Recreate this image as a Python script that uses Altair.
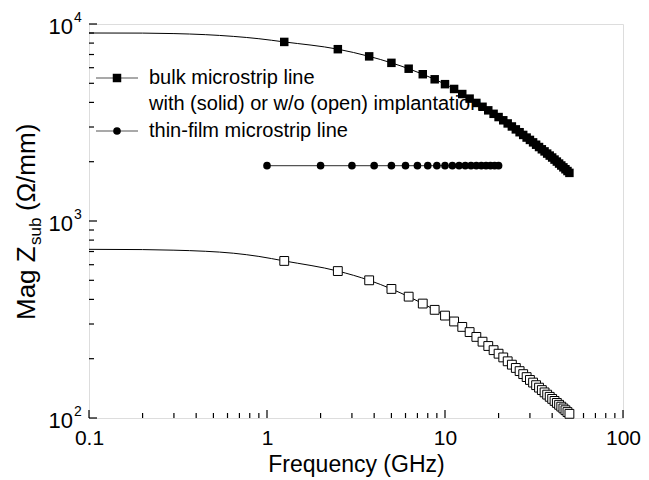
import altair as alt
import pandas as pd

# ---------------- data ----------------
freq = [1.25, 2.5, 3.75, 5.0, 6.25, 7.5, 8.75, 10.0, 11.25, 12.5, 13.75, 15.0,
        16.25, 17.5, 18.75, 20.0, 21.25, 22.5, 23.75, 25.0, 26.25, 27.5, 28.75,
        30.0, 31.25, 32.5, 33.75, 35.0, 36.25, 37.5, 38.75, 40.0, 41.25, 42.5,
        43.75, 45.0, 46.25, 47.5, 48.75, 50.0]
solid = [8110, 7450, 6850, 6350, 5930, 5560, 5240, 4950, 4680, 4410, 4180, 3975,
         3800, 3645, 3500, 3370, 3245, 3128, 3019, 2918, 2823, 2735, 2652,
         2580, 2507, 2439, 2374, 2312, 2256, 2199, 2148, 2100, 2050, 2003,
         1957, 1913, 1872, 1831, 1793, 1755]
open_ = [627, 557, 500, 452, 413, 381, 354, 331, 309, 290, 273, 258,
         244, 232, 221, 212, 203, 194, 186.5, 179.5, 173, 167, 161.3,
         156, 151.3, 146.8, 142.6, 138.6, 134.9, 131.4, 128.1, 125, 122.1, 119.3,
         116.7, 114.2, 111.8, 109.5, 107.2, 105]
# low-frequency part of the curves (line only, no markers)
freq_low = [0.1, 0.2, 0.3, 0.45, 0.65, 0.9]
solid_low = [9000, 8990, 8940, 8830, 8650, 8420]
open_low = [718, 716, 711, 702, 686, 661]

freq_tf = [1, 2, 3, 4, 5, 6, 7, 8, 9, 10, 11, 12, 13, 14, 15, 16, 17, 18, 19, 20]
thin = [1910, 1910, 1910, 1910, 1910, 1910, 1910, 1910, 1910, 1910,
        1910, 1910, 1910, 1910, 1910, 1910, 1910, 1910, 1910, 1910]

x_major = [0.1, 1, 10, 100]
x_minor = [0.2, 0.3, 0.4, 0.5, 0.6, 0.7, 0.8, 0.9, 2, 3, 4, 5, 6, 7, 8, 9,
           20, 30, 40, 50, 60, 70, 80, 90]
y_major = [100, 1000, 10000]
y_exp = ["2", "3", "4"]
y_minor = [200, 300, 400, 500, 600, 700, 800, 900,
           2000, 3000, 4000, 5000, 6000, 7000, 8000, 9000]

legend_labels = ["bulk microstrip line",
                 "with (solid) or w/o (open) implantation",
                 "thin-film microstrip line"]

FONT = "Liberation Sans"
W, H = 534, 394

xs = alt.Scale(type="log", domain=[0.1, 100], nice=False)
ys = alt.Scale(type="log", domain=[100, 10000], nice=False)
xaxis = alt.Axis(values=x_major, format="~g", ticks=False, tickSize=0, domain=False,
                 grid=False, labelFontSize=21, labelFont=FONT, labelColor="black",
                 labelPadding=9, labelFlush=False, labelOverlap=False, labelBound=False,
                 title="Frequency (GHz)", titleFontSize=23,
                 titleFont=FONT, titleFontWeight="normal", titleColor="black",
                 titlePadding=5)


def X(field="f"):
    return alt.X(f"{field}:Q", scale=xs, axis=xaxis)


def Y(field="v"):
    return alt.Y(f"{field}:Q", scale=ys, axis=None)


solid_line_df = pd.DataFrame({"f": freq_low + freq, "v": solid_low + solid})
open_line_df = pd.DataFrame({"f": freq_low + freq, "v": open_low + open_})
solid_df = pd.DataFrame({"f": freq, "v": solid})
open_df = pd.DataFrame({"f": freq, "v": open_})
thin_df = pd.DataFrame({"f": freq_tf, "v": thin})

solid_line = alt.Chart(solid_line_df).mark_line(color="black", strokeWidth=1,
                                                interpolate="monotone").encode(x=X(), y=Y())
open_line = alt.Chart(open_line_df).mark_line(color="black", strokeWidth=1,
                                              interpolate="monotone").encode(x=X(), y=Y())
thin_line = alt.Chart(thin_df).mark_line(color="#555555", strokeWidth=1.2).encode(x=X(), y=Y())

solid_pts = alt.Chart(solid_df).mark_point(shape="square", filled=True, color="black",
                                           size=72, opacity=1).encode(x=X(), y=Y())
open_pts = alt.Chart(open_df).mark_point(shape="square", filled=True, fill="white",
                                         stroke="black", strokeWidth=1, size=78,
                                         opacity=1).encode(x=X(), y=Y())
thin_pts = alt.Chart(thin_df).mark_point(shape="circle", filled=True, color="black",
                                         size=58, opacity=1).encode(x=X(), y=Y())

# inward ticks
xmaj_df = pd.DataFrame({"f": x_major})
xmin_df = pd.DataFrame({"f": x_minor})
ymaj_df = pd.DataFrame({"v": y_major, "e": y_exp})
ymin_df = pd.DataFrame({"v": y_minor})

xmaj_ticks = alt.Chart(xmaj_df).mark_rule(color="black", strokeWidth=1.2).encode(
    x=X(), y=alt.value(H), y2=alt.value(H - 8))
xmin_ticks = alt.Chart(xmin_df).mark_rule(color="black", strokeWidth=1.2).encode(
    x=X(), y=alt.value(H), y2=alt.value(H - 5))
ymaj_ticks = alt.Chart(ymaj_df).mark_rule(color="black", strokeWidth=1.2).encode(
    y=Y(), x=alt.value(0), x2=alt.value(8))
ymin_ticks = alt.Chart(ymin_df).mark_rule(color="black", strokeWidth=1.2).encode(
    y=Y(), x=alt.value(0), x2=alt.value(5))

# y tick labels 10^n
ylab_base = alt.Chart(ymaj_df).mark_text(align="right", baseline="middle", dy=3,
                                         fontSize=22, font=FONT, color="black").encode(
    y=Y(), x=alt.value(-16), text=alt.value("10"))
ylab_exp = alt.Chart(ymaj_df).mark_text(align="left", baseline="middle", dy=-6,
                                        fontSize=14, font=FONT, color="black").encode(
    y=Y(), x=alt.value(-15), text="e:N")

# y axis title with subscript
one = pd.DataFrame({"d": [0]})
yt1 = alt.Chart(one).mark_text(align="left", baseline="alphabetic", angle=270,
                               fontSize=26, font=FONT, color="black").encode(
    x=alt.value(-54), y=alt.value(296), text=alt.value("Mag Z"))
yt2 = alt.Chart(one).mark_text(align="left", baseline="alphabetic", angle=270,
                               fontSize=17, font=FONT, color="black").encode(
    x=alt.value(-48), y=alt.value(221), text=alt.value("sub"))
yt3 = alt.Chart(one).mark_text(align="left", baseline="alphabetic", angle=270,
                               fontSize=26, font=FONT, color="black").encode(
    x=alt.value(-54), y=alt.value(187), text=alt.value("(\u03a9/mm)"))

# legend
leg_l1 = alt.Chart(one).mark_rule(color="#555555", strokeWidth=1.2).encode(
    x=alt.value(7), x2=alt.value(49), y=alt.value(54))
leg_l2 = alt.Chart(one).mark_rule(color="#555555", strokeWidth=1.2).encode(
    x=alt.value(7), x2=alt.value(49), y=alt.value(107))
leg_m1 = alt.Chart(one).mark_point(shape="square", filled=True, color="black",
                                   size=72, opacity=1).encode(x=alt.value(28), y=alt.value(54))
leg_m2 = alt.Chart(one).mark_point(shape="circle", filled=True, color="black",
                                   size=58, opacity=1).encode(x=alt.value(28), y=alt.value(107))
leg_t = []
for lab, yy in zip(legend_labels, [54, 80, 107]):
    leg_t.append(alt.Chart(one).mark_text(align="left", baseline="middle", fontSize=20,
                                          font=FONT, color="black").encode(
        x=alt.value(60), y=alt.value(yy), text=alt.value(lab)))

chart = alt.layer(
    xmin_ticks, xmaj_ticks, ymin_ticks, ymaj_ticks,
    solid_line, open_line, thin_line,
    solid_pts, open_pts, thin_pts,
    ylab_base, ylab_exp, yt1, yt2, yt3,
    leg_l1, leg_l2, leg_m1, leg_m2, *leg_t,
).properties(
    width=W, height=H,
    autosize=alt.AutoSizeParams(type="none"),
    padding={"left": 81, "top": 16, "right": 18, "bottom": 60},
).configure_view(stroke="black", strokeWidth=1.5).configure(background="white")

chart.save("out.html", embed_options={"renderer": "svg", "actions": False})
